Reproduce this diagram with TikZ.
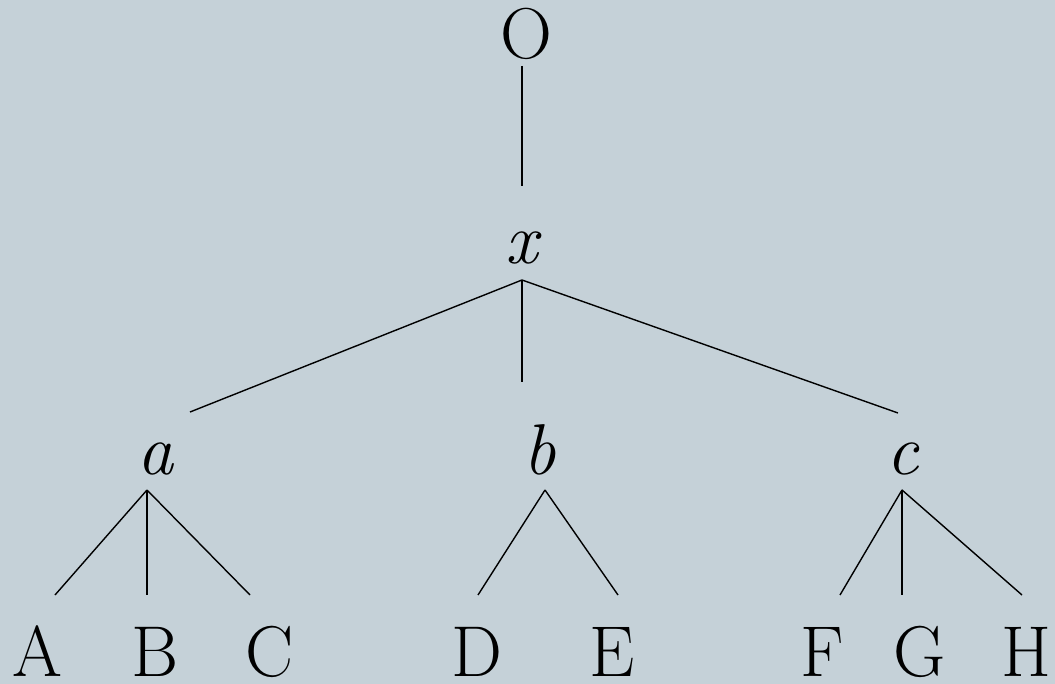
\documentclass[tikz,border=0pt]{standalone}
\definecolor{bg}{RGB}{197,209,216}
\begin{document}
\begin{tikzpicture}[x=1pt,y=-1pt,
  lab/.style={anchor=base,inner sep=0pt,font=\fontsize{72}{80}\selectfont},
  edge/.style={line width=1.4pt}]
\fill[bg] (0,0) rectangle (1055,684);
\useasboundingbox (0,0) rectangle (1055,684);
% labels
\node[lab] (O) at (526,59) {O};
\node[lab] (x) at (522,264) {\itshape x};
\node[lab] (a) at (155,474) {\itshape a};
\node[lab] (b) at (540,474) {\itshape b};
\node[lab] (c) at (903,474) {\itshape c};
\node[lab] (A) at (37,676) {A};
\node[lab] (B) at (155,676) {B};
\node[lab] (C) at (270,676) {C};
\node[lab] (D) at (477,676) {D};
\node[lab] (E) at (612,676) {E};
\node[lab] (F) at (822,676) {F};
\node[lab] (G) at (920,676) {G};
\node[lab] (H) at (1026,676) {H};
% connector ends
\coordinate (Ob) at (522,66);
\coordinate (xt) at (522,186);
\coordinate (xb) at (522,280);
\coordinate (at) at (190,412);
\coordinate (bt) at (522,382);
\coordinate (ct) at (898,413);
\coordinate (ab) at (147,490);
\coordinate (bb) at (545,490);
\coordinate (cb) at (902,490);
\coordinate (At) at (55,595);
\coordinate (Bt) at (147,595);
\coordinate (Ct) at (250,595);
\coordinate (Dt) at (478,595);
\coordinate (Et) at (618,595);
\coordinate (Ft) at (840,595);
\coordinate (Gt) at (902,595);
\coordinate (Ht) at (1022,595);
% connectors
\draw[edge] (Ob) -- (xt);
\draw[edge] (xb) -- (at);
\draw[edge] (xb) -- (bt);
\draw[edge] (xb) -- (ct);
\draw[edge] (ab) -- (At);
\draw[edge] (ab) -- (Bt);
\draw[edge] (ab) -- (Ct);
\draw[edge] (bb) -- (Dt);
\draw[edge] (bb) -- (Et);
\draw[edge] (cb) -- (Ft);
\draw[edge] (cb) -- (Gt);
\draw[edge] (cb) -- (Ht);
\end{tikzpicture}
\end{document}
